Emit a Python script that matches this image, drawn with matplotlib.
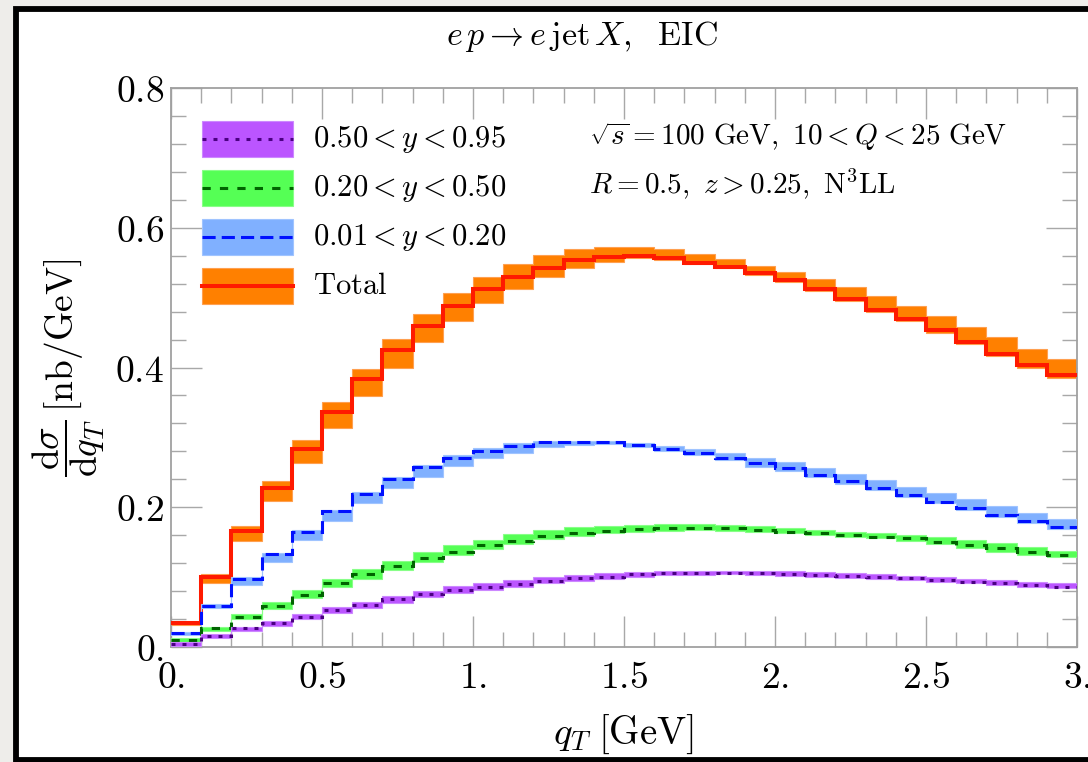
import numpy as np
import matplotlib
matplotlib.use("Agg")
import matplotlib.pyplot as plt
from matplotlib.patches import Rectangle
from matplotlib.lines import Line2D

plt.rcParams['mathtext.fontset'] = 'cm'
plt.rcParams['font.family'] = 'serif'

# ---------------- data ----------------
bin_edges = np.round(np.arange(0, 3.0001, 0.1), 2)

total_c = [0.034, 0.100, 0.166, 0.227, 0.284, 0.337, 0.383, 0.425, 0.459, 0.488,
           0.512, 0.530, 0.543, 0.554, 0.558, 0.560, 0.556, 0.550, 0.544, 0.535,
           0.525, 0.512, 0.498, 0.483, 0.469, 0.454, 0.437, 0.420, 0.404, 0.389]
total_hi = [0.036, 0.104, 0.173, 0.237, 0.296, 0.350, 0.398, 0.441, 0.477, 0.507,
            0.530, 0.548, 0.561, 0.570, 0.573, 0.573, 0.569, 0.563, 0.555, 0.545,
            0.537, 0.526, 0.515, 0.502, 0.488, 0.474, 0.458, 0.443, 0.427, 0.412]
total_lo = [0.031, 0.092, 0.152, 0.209, 0.263, 0.314, 0.359, 0.400, 0.436, 0.467,
            0.493, 0.513, 0.530, 0.543, 0.551, 0.556, 0.554, 0.548, 0.542, 0.532,
            0.523, 0.510, 0.495, 0.480, 0.466, 0.450, 0.434, 0.417, 0.400, 0.385]

low_y_c = [0.0196, 0.0587, 0.0973, 0.133, 0.165, 0.194, 0.219, 0.240, 0.257, 0.271,
           0.2805, 0.2877, 0.293, 0.2934, 0.293, 0.289, 0.284, 0.278, 0.271, 0.264,
           0.256, 0.246, 0.237, 0.227, 0.2175, 0.208, 0.1985, 0.189, 0.180, 0.172]
low_y_hi = [0.022, 0.0615, 0.0997, 0.135, 0.1674, 0.196, 0.2223, 0.2428, 0.2605, 0.2748,
            0.2843, 0.2915, 0.2948, 0.2953, 0.2953, 0.2915, 0.2877, 0.2829, 0.2781, 0.270,
            0.2643, 0.2557, 0.2471, 0.239, 0.2295, 0.220, 0.2113, 0.2018, 0.1922, 0.1837]
low_y_lo = [0.017, 0.0553, 0.0887, 0.122, 0.153, 0.181, 0.206, 0.227, 0.244, 0.259,
            0.270, 0.278, 0.2857, 0.2891, 0.2905, 0.2867, 0.281, 0.2748, 0.2676, 0.2571,
            0.2524, 0.2428, 0.2333, 0.2247, 0.2151, 0.2056, 0.196, 0.1856, 0.177, 0.1684]

mid_y_c = [0.010, 0.0267, 0.0434, 0.059, 0.0744, 0.091, 0.104, 0.116, 0.127, 0.1364,
           0.146, 0.152, 0.159, 0.1636, 0.1665, 0.1684, 0.170, 0.170, 0.1696, 0.1674,
           0.165, 0.1627, 0.160, 0.158, 0.1555, 0.1508, 0.146, 0.141, 0.1355, 0.1317]
mid_y_hi = [0.0134, 0.0291, 0.0468, 0.065, 0.0816, 0.097, 0.111, 0.1235, 0.1355, 0.146,
            0.153, 0.1617, 0.1674, 0.1713, 0.1732, 0.1751, 0.176, 0.176, 0.1751, 0.1737,
            0.1698, 0.1674, 0.1651, 0.1636, 0.1603, 0.157, 0.1531, 0.1484, 0.1436, 0.1379]
mid_y_lo = [0.0052, 0.0234, 0.040, 0.055, 0.0706, 0.0854, 0.097, 0.110, 0.122, 0.1317,
            0.140, 0.1474, 0.1541, 0.1589, 0.1627, 0.1651, 0.1665, 0.1674, 0.1665, 0.1651,
            0.1627, 0.1603, 0.1579, 0.1555, 0.1522, 0.1474, 0.1412, 0.1364, 0.1317, 0.1283]

high_y_c = [0.0043, 0.0157, 0.0267, 0.034, 0.0434, 0.053, 0.060, 0.068, 0.0754, 0.0816,
            0.0854, 0.090, 0.0949, 0.0983, 0.1006, 0.104, 0.1054, 0.1063, 0.1063, 0.1054,
            0.1045, 0.103, 0.1016, 0.0997, 0.0983, 0.0959, 0.0935, 0.091, 0.0887, 0.0863]
high_y_hi = [0.0076, 0.0181, 0.0291, 0.0372, 0.0472, 0.0568, 0.0649, 0.073, 0.0806, 0.0873,
             0.0911, 0.0959, 0.1007, 0.103, 0.1054, 0.1078, 0.1092, 0.1092, 0.1092, 0.1088,
             0.1083, 0.1069, 0.1054, 0.104, 0.1021, 0.0997, 0.0978, 0.0959, 0.0935, 0.0911]
high_y_lo = [0.0014, 0.0124, 0.0234, 0.0301, 0.0396, 0.0491, 0.0563, 0.0634, 0.0711, 0.0768,
             0.0816, 0.0863, 0.0911, 0.0949, 0.0978, 0.1007, 0.103, 0.1035, 0.104, 0.103,
             0.1021, 0.1007, 0.0992, 0.0973, 0.0959, 0.0935, 0.0911, 0.0887, 0.0863, 0.084]

series_labels = [r'$0.50 < y < 0.95$', r'$0.20 < y < 0.50$',
                 r'$0.01 < y < 0.20$', r'$\mathrm{Total}$']
x_tick_vals = [0, 0.5, 1.0, 1.5, 2.0, 2.5, 3.0]
x_tick_labels = [r'$0.$', r'$0.5$', r'$1.$', r'$1.5$', r'$2.$', r'$2.5$', r'$3.$']
y_tick_vals = [0, 0.2, 0.4, 0.6, 0.8]
y_tick_labels = [r'$0.$', r'$0.2$', r'$0.4$', r'$0.6$', r'$0.8$']

# ---------------- styles ----------------
styles = {
    'high': dict(band='#bb55ff', bedge='#cc88ff', line='#4b0082', ls=(0, (1.3, 2.3)), lw=2.2),
    'mid': dict(band='#55ff55', bedge='#88ff88', line='#006400', ls=(0, (2.7, 3.0)), lw=2.2),
    'low': dict(band='#80b0ff', bedge='#a0c4ff', line='#0010ff', ls=(0, (4.3, 2.0)), lw=2.2),
    'tot': dict(band='#ff8000', bedge='#ffa050', line='#ff1a00', ls='-', lw=2.9),
}

W, H = 1088, 762
fig = plt.figure(figsize=(W / 100, H / 100), dpi=100)
fig.patch.set_facecolor('#eeedea')
panel = Rectangle((15.5 / W, 2.5 / H), 1.2, (1 - 9 / H) - 2.5 / H,
                  transform=fig.transFigure, facecolor='white', edgecolor='black',
                  lw=4.2, zorder=-5, clip_on=False)
fig.add_artist(panel)

ax = fig.add_axes([171 / W, 1 - 647 / H, 906 / W, 559 / H])
ax.set_facecolor('white')

data = [('tot', total_c, total_lo, total_hi),
        ('low', low_y_c, low_y_lo, low_y_hi),
        ('mid', mid_y_c, mid_y_lo, mid_y_hi),
        ('high', high_y_c, high_y_lo, high_y_hi)]
z = 2
for key, c, lo, hi in data:
    st = styles[key]
    ax.stairs(hi, bin_edges, baseline=lo, fill=True, facecolor=st['band'],
              edgecolor=st['bedge'], lw=0.8, zorder=z)
    ax.stairs(c, bin_edges, baseline=None, color=st['line'], ls=st['ls'],
              lw=st['lw'], zorder=z + 1)
    z += 2

ax.set_xlim(0, 3)
ax.set_ylim(0, 0.8)
ax.set_xticks(x_tick_vals)
ax.set_xticklabels(x_tick_labels)
ax.set_yticks(y_tick_vals)
ax.set_yticklabels(y_tick_labels)
ax.set_xticks(np.arange(0, 3.0001, 0.1), minor=True)
ax.set_yticks(np.arange(0, 0.8001, 0.04), minor=True)
ax.tick_params(which='both', direction='in', top=True, right=True,
               color='#a8a8a8', width=1.0, labelsize=27)
ax.tick_params(which='major', length=22.5)
ax.tick_params(which='minor', length=11)
ax.tick_params(axis='x', which='major', pad=9)
ax.tick_params(axis='y', which='major', pad=5)
for sp in ax.spines.values():
    sp.set_color('#a0a0a0')
    sp.set_linewidth(1.3)

ax.set_xlabel(r'$q_T\;[\mathrm{GeV}]$', fontsize=28)
ax.xaxis.set_label_coords(0.5, -0.118)
ax.set_ylabel(r'$\dfrac{\mathrm{d}\sigma}{\mathrm{d}q_T}\,[\mathrm{nb/GeV}]$', fontsize=27)
ax.yaxis.set_label_coords(-0.0706, 0.5)

# legend keys
keys = ['high', 'mid', 'low', 'tot']
for i, (key, lab) in enumerate(zip(keys, series_labels)):
    st = styles[key]
    yc = 139 + 49 * i
    yb = 147 + 49 * i
    fy = lambda p: (647 - p) / 559
    ax.add_patch(Rectangle(((202 - 171) / 906, fy(yc + 18)), 91 / 906, 36 / 559,
                           transform=ax.transAxes, facecolor=st['band'],
                           edgecolor=st['bedge'], lw=0.8, zorder=10))
    ax.add_line(Line2D([(202 - 171) / 906, (293 - 171) / 906], [fy(yc), fy(yc)],
                       transform=ax.transAxes, color=st['line'], ls=st['ls'],
                       lw=st['lw'], zorder=11))
    ax.text((313 - 171) / 906, fy(yb), lab, transform=ax.transAxes,
            fontsize=22, va='baseline', ha='left', zorder=11)

ax.text((589 - 171) / 906, (647 - 145) / 559,
        r'$\sqrt{s} = 100\ \mathrm{GeV},\ 10 < Q < 25\ \mathrm{GeV}$',
        transform=ax.transAxes, fontsize=21, va='baseline', ha='left')
ax.text((589 - 171) / 906, (647 - 193) / 559,
        r'$R = 0.5,\ z > 0.25,\ \mathrm{N}^3\mathrm{LL}$',
        transform=ax.transAxes, fontsize=21, va='baseline', ha='left')

fig.text(582 / W, 1 - 45 / H, r'$e\,p \to e\,\mathrm{jet}\,X,\ \ \mathrm{EIC}$',
         fontsize=24.5, ha='center', va='baseline')

fig.savefig('out.png', dpi=100, facecolor=fig.get_facecolor())
